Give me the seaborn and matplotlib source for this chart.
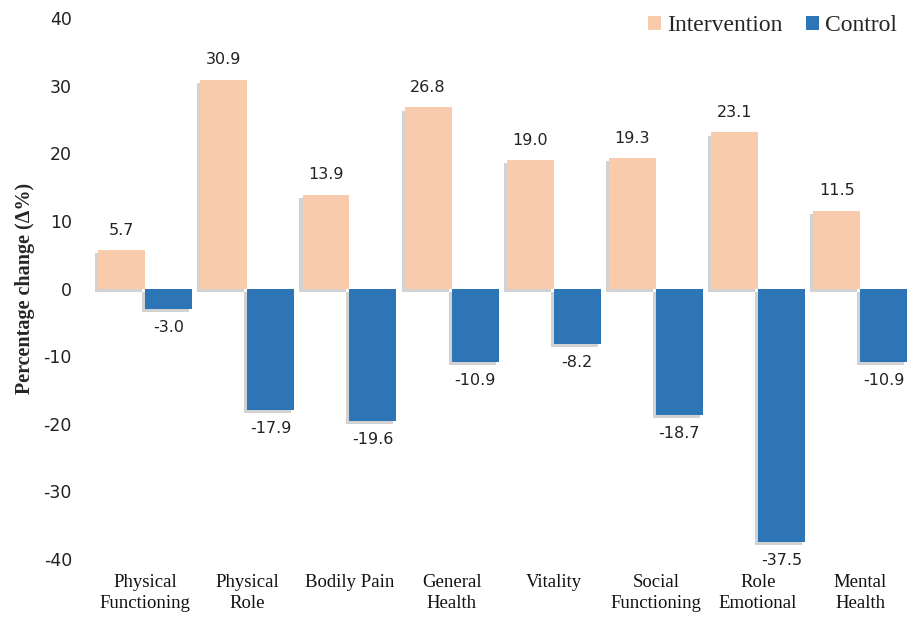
import matplotlib
matplotlib.use("Agg")
import matplotlib.pyplot as plt
import matplotlib.patheffects as pe
from matplotlib.patches import Patch
import pandas as pd
import seaborn as sns

categories = ["Physical\nFunctioning", "Physical\nRole", "Bodily Pain", "General\nHealth",
              "Vitality", "Social\nFunctioning", "Role\nEmotional", "Mental\nHealth"]
intervention = [5.7, 30.9, 13.9, 26.8, 19.0, 19.3, 23.1, 11.5]
control = [-3.0, -17.9, -19.6, -10.9, -8.2, -18.7, -37.5, -10.9]
groups = ["Intervention", "Control"]
colors = {"Intervention": "#F8CBAD", "Control": "#2E75B6"}
yticks = [-40, -30, -20, -10, 0, 10, 20, 30, 40]

df = pd.DataFrame({
    "category": categories * 2,
    "group": ["Intervention"] * len(categories) + ["Control"] * len(categories),
    "value": intervention + control,
})

sns.set_style("white")
fig = plt.figure(figsize=(9.14, 6.18), dpi=100)
ax = fig.add_axes([0.103, 0.0955, 0.894, 0.875])

sns.barplot(data=df, x="category", y="value", hue="group", order=categories,
            hue_order=groups, palette=colors, width=0.92, ax=ax,
            legend=False, errorbar=None, saturation=1, linewidth=0, edgecolor="none")

# soft drop shadow to the lower left of each bar
shadow = [pe.SimplePatchShadow(offset=(-2.2, -2.2), shadow_rgbFace="#7f7f7f", alpha=0.35),
          pe.Normal()]
for bar in ax.patches:
    bar.set_path_effects(shadow)

label_font = dict(family="DejaVu Sans", fontsize=11.5, color="#222222")
for container, vals in zip(ax.containers, [intervention, control]):
    for bar, v in zip(container, vals):
        x = bar.get_x() + bar.get_width() / 2
        if v >= 0:
            ax.annotate(f"{v:.1f}", (x, v), xytext=(0, 9), textcoords="offset points",
                        ha="center", va="bottom", **label_font)
        else:
            ax.annotate(f"{v:.1f}", (x, v), xytext=(0, -8), textcoords="offset points",
                        ha="center", va="top", **label_font)

ax.set_ylim(-40, 40)
ax.set_xlim(-0.5, len(categories) - 0.5)
ax.set_yticks(yticks)
ax.set_yticklabels([str(t) for t in yticks], family="DejaVu Sans", fontsize=12.5,
                   color="#222222")
ax.set_xticks(range(len(categories)))
ax.set_xticklabels(categories, family="Liberation Serif", fontsize=13.5, color="#111111",
                   linespacing=1.3)
ax.tick_params(axis="both", length=0)
ax.tick_params(axis="x", pad=11)
ax.tick_params(axis="y", pad=16)
ax.set_xlabel("")
ax.set_ylabel("Percentage change (\u0394%)", family="Liberation Serif", fontsize=14.5,
              fontweight="bold", labelpad=6)
for s in ax.spines.values():
    s.set_visible(False)

handles = [Patch(facecolor=colors[g], edgecolor="none", label=g) for g in groups]
ax.legend(handles=handles, loc="upper right", bbox_to_anchor=(1.008, 1.045), ncol=2,
          frameon=False, prop={"family": "Liberation Serif", "size": 17},
          handlelength=0.55, handleheight=0.55, handletextpad=0.25, columnspacing=1.0)

fig.savefig("out.png", dpi=100, facecolor="white")
